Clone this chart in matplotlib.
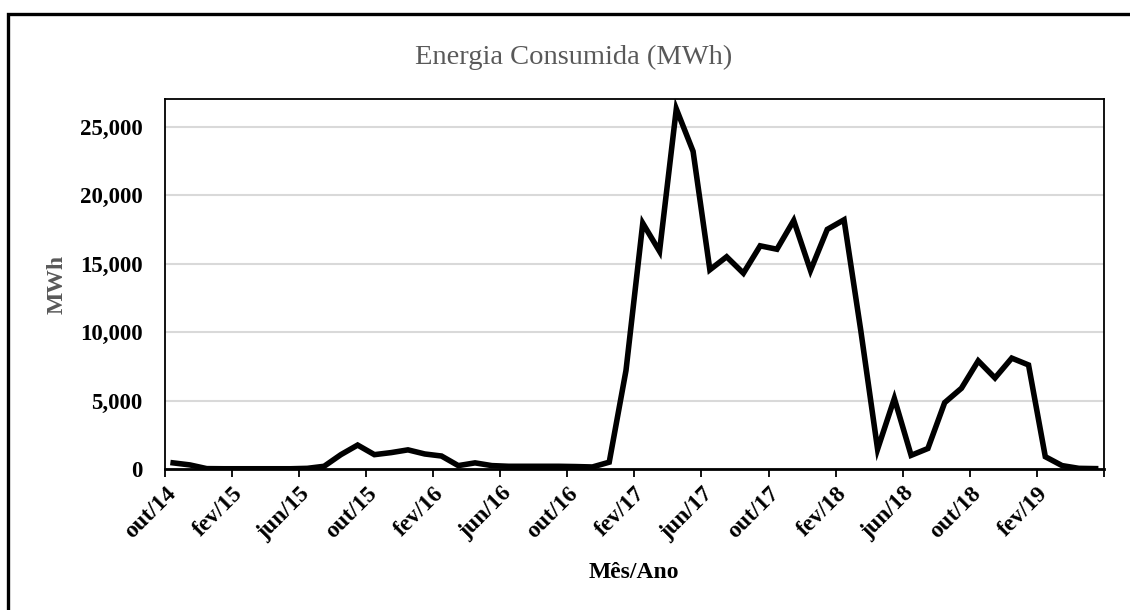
import numpy as np
import matplotlib.pyplot as plt
from matplotlib.patches import Rectangle
from matplotlib.ticker import FuncFormatter
import matplotlib.transforms as mtransforms

plt.rcParams['font.family'] = ['Liberation Serif', 'DejaVu Serif']

# consumo mensal, out/14 ate mai/19 (MWh)
energia = [450, 300, 30, 20, 20, 20, 20, 20, 50, 200,
           1050, 1750, 1050, 1200, 1400, 1100, 950, 250, 450, 250,
           200, 200, 200, 200, 180, 150, 500, 7200, 17950, 15900,
           26300, 23200, 14550, 15500, 14300, 16300, 16050, 18150, 14500, 17500,
           18200, 10100, 1450, 5150, 1000, 1500, 4850, 5900, 7900, 6650,
           8100, 7600, 900, 250, 50, 30]
rotulos = ['out/14', 'fev/15', 'jun/15', 'out/15', 'fev/16', 'jun/16', 'out/16',
           'fev/17', 'jun/17', 'out/17', 'fev/18', 'jun/18', 'out/18', 'fev/19']
y_ticks = [0, 5000, 10000, 15000, 20000, 25000]

n = len(energia)
x = np.arange(n)

fig = plt.figure(figsize=(11.3, 6.1), dpi=100)
ax = fig.add_axes([0.1458, 0.2311, 0.977 - 0.1458, 0.8372 - 0.2311])

ax.plot(x, energia, color='black', lw=4, solid_joinstyle='miter', zorder=3)

ax.set_xlim(-0.5, n - 0.5)
ax.set_ylim(0, 27000)
ax.set_yticks(y_ticks)
ax.yaxis.set_major_formatter(FuncFormatter(lambda v, p: f'{int(v):,}'))
ax.grid(axis='y', color='#d9d9d9', lw=1.5, zorder=0)
ax.tick_params(axis='y', length=0, pad=16, labelsize=16.5)
for lab in ax.get_yticklabels():
    lab.set_fontweight('bold')

# marcas entre categorias, rotulos a cada 4 meses
ax.set_xticks(np.arange(-0.5, n, 4))
ax.set_xticklabels([])
ax.set_xticks(np.arange(0, n - 2, 4), minor=True)
ax.set_xticklabels(rotulos, minor=True, rotation=45, ha='right',
                   rotation_mode='anchor', fontsize=17, fontweight='bold')
ax.tick_params(axis='x', which='major', length=6, width=1.3, direction='out')
ax.tick_params(axis='x', which='minor', length=0, pad=10)
off = mtransforms.ScaledTranslation(-8 / 100, 0, fig.dpi_scale_trans)
for lab in ax.get_xticklabels(minor=True):
    lab.set_transform(lab.get_transform() + off)

for s in ax.spines.values():
    s.set_color('black')
    s.set_linewidth(1.3)
ax.spines['bottom'].set_linewidth(2)

ax.set_xlabel('Mês/Ano', fontsize=17, fontweight='bold', va='center')
ax.set_ylabel('MWh', fontsize=17, fontweight='bold', color='#595959', va='center')
ax.xaxis.set_label_coords(634 / 1130, 1 - 572 / 610, transform=fig.transFigure)
ax.yaxis.set_label_coords(57 / 1130, 1 - 284 / 610, transform=fig.transFigure)

fig.text(574 / 1130, 1 - 64.3 / 610, 'Energia Consumida (MWh)', ha='center',
         va='baseline', fontsize=20.5, color='#595959')

# moldura do grafico
fig.patches.append(Rectangle((8 / 1130, -0.1), 1.2, 1 - 14 / 610 + 0.1,
                             transform=fig.transFigure, fill=False,
                             edgecolor='black', lw=2.4))

fig.savefig('out.png', dpi=100)
